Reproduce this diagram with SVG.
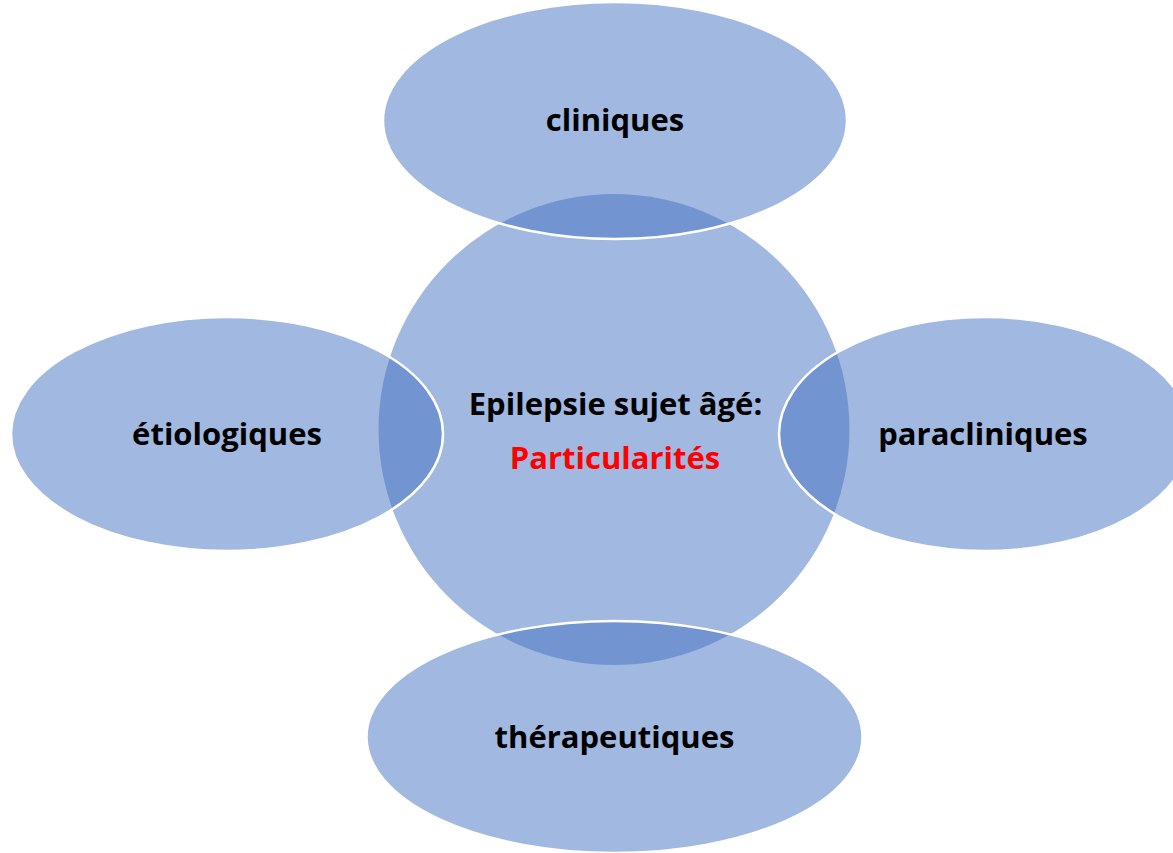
<svg xmlns="http://www.w3.org/2000/svg" width="1173" height="853" viewBox="0 0 1173 853">
<style>
.shape{fill:#4472C4;fill-opacity:0.5;}
.outer{stroke:#ffffff;stroke-width:2.5;}
.lbl{font-family:"Open Sans","Liberation Sans",sans-serif;font-weight:bold;font-size:31px;fill:#000000;text-anchor:middle;}
.red{fill:#FF0000;}
</style>
<rect width="1173" height="853" fill="#ffffff"/>
<g id="center">
<circle class="shape" cx="614" cy="429.5" r="235.5"/>
</g>
<g id="top">
<ellipse class="shape outer" cx="615" cy="120.5" rx="232" ry="118.5"/>
<text class="lbl" x="615" y="131">cliniques</text>
</g>
<g id="left">
<ellipse class="shape outer" cx="227" cy="434" rx="216" ry="117"/>
<text class="lbl" x="227" y="445">étiologiques</text>
</g>
<g id="right">
<ellipse class="shape outer" cx="985" cy="434" rx="206" ry="117"/>
<text class="lbl" x="983" y="445">paracliniques</text>
</g>
<g id="bottom">
<ellipse class="shape outer" cx="614.5" cy="737" rx="248" ry="116"/>
<text class="lbl" x="614.5" y="748">thérapeutiques</text>
</g>
<g id="center-text">
<text class="lbl" x="615.5" y="415">Epilepsie sujet âgé:</text>
<text class="lbl red" x="615" y="469">Particularités</text>
</g>
<g id="connectors"></g>
</svg>
